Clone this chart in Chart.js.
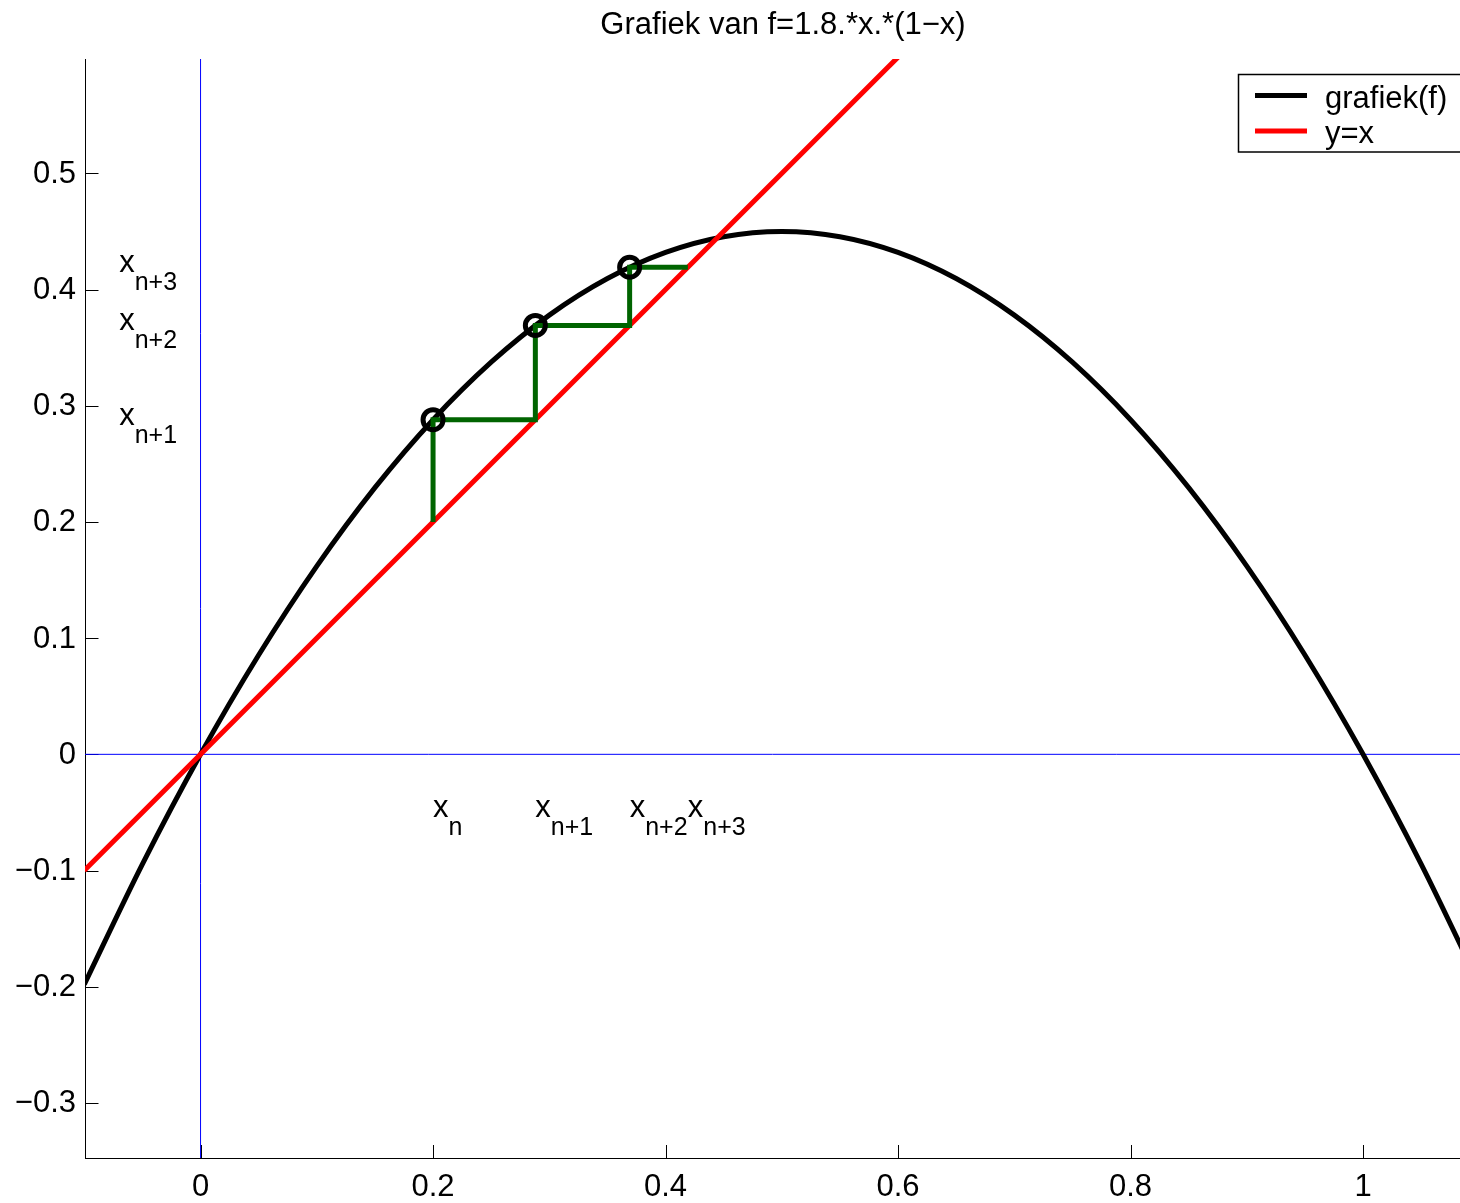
<!DOCTYPE html>
<html><head><meta charset="utf-8">
<script src="https://cdn.jsdelivr.net/npm/chart.js@4/dist/chart.umd.min.js"></script>
<style>html,body{margin:0;padding:0;background:#fff}</style>
</head><body>
<canvas id="c" width="1460" height="1203"></canvas>
<script>
const titleText = 'Grafiek van f=1.8.*x.*(1−x)';
const curveX = [-0.1,-0.05,0,0.05,0.1,0.15,0.2,0.25,0.3,0.35,0.4,0.45,0.5,0.55,0.6,0.65,0.7,0.75,0.8,0.85,0.9,0.95,1.0,1.05,1.1];
const curveY = [-0.198,-0.0945,0,0.0855,0.162,0.2295,0.288,0.3375,0.378,0.4095,0.432,0.4455,0.45,0.4455,0.432,0.4095,0.378,0.3375,0.288,0.2295,0.162,0.0855,0,-0.0945,-0.198];
const diagX = [-0.1, 0.6];
const diagY = [-0.1, 0.6];
const cobwebX = [0.2,0.2,0.288,0.288,0.3691,0.3691,0.4192];
const cobwebY = [0.2,0.288,0.288,0.3691,0.3691,0.4192,0.4192];
const iterX = [0.2,0.288,0.3691];
const iterY = [0.288,0.3691,0.4192];
const xTicks = [0,0.2,0.4,0.6,0.8,1];
const xTickLabels = ['0','0.2','0.4','0.6','0.8','1'];
const yTicks = [-0.3,-0.2,-0.1,0,0.1,0.2,0.3,0.4,0.5];
const yTickLabels = ['−0.3','−0.2','−0.1','0','0.1','0.2','0.3','0.4','0.5'];
const bottomLabelX = [0.2,0.288,0.3691,0.4192];
const bottomLabelY = [-0.05,-0.05,-0.05,-0.05];
const bottomLabelSub = ['n','n+1','n+2','n+3'];
const leftLabelX = [-0.07,-0.07,-0.07];
const leftLabelY = [0.288,0.3691,0.4192];
const leftLabelSub = ['n+1','n+2','n+3'];
const legendLabels = ['grafiek(f)','y=x'];
const xRange = [-0.0994, 1.0834];
const yRange = [-0.3474, 0.5984];

const FONT = "'Liberation Sans', Arial, Helvetica, sans-serif";
const pts = (xs, ys) => xs.map((x, i) => ({x: x, y: ys[i]}));

const ticksPlugin = {
  id: 'inTicks',
  beforeDatasetsDraw(chart) {
    const ctx = chart.ctx, a = chart.chartArea, xs = chart.scales.x, ys = chart.scales.y;
    ctx.save();
    ctx.strokeStyle = '#000'; ctx.lineWidth = 1;
    ctx.beginPath();
    xs.ticks.forEach(t => { const p = Math.round(xs.getPixelForValue(t.value)) + 0.5; ctx.moveTo(p, a.bottom); ctx.lineTo(p, a.bottom - 13); });
    ys.ticks.forEach(t => { const p = Math.round(ys.getPixelForValue(t.value)) + 0.5; ctx.moveTo(a.left + 0.5, p); ctx.lineTo(a.left + 13.5, p); });
    ctx.stroke();
    ctx.restore();
  }
};

const titlePlugin = {
  id: 'axesTitle',
  afterDraw(chart) {
    const ctx = chart.ctx, a = chart.chartArea;
    ctx.save();
    ctx.fillStyle = '#000';
    ctx.font = '31px ' + FONT;
    ctx.textAlign = 'center'; ctx.textBaseline = 'alphabetic';
    // axes extends past the right edge of the picture; title is centred over the full axes width
    ctx.fillText(titleText, (a.left + a.right + 21) / 2, 34);
    ctx.restore();
  }
};

function drawSubLabel(ctx, px, py, sub) {
  ctx.font = '31px ' + FONT;
  ctx.textAlign = 'left'; ctx.textBaseline = 'alphabetic';
  ctx.fillText('x', px, py + 5);
  const w = ctx.measureText('x').width;
  ctx.font = '25px ' + FONT;
  ctx.fillText(sub, px + w, py + 23);
}

const labelsPlugin = {
  id: 'subLabels',
  afterDatasetsDraw(chart) {
    const ctx = chart.ctx, xs = chart.scales.x, ys = chart.scales.y;
    ctx.save();
    ctx.fillStyle = '#000';
    bottomLabelX.forEach((x, i) => drawSubLabel(ctx, xs.getPixelForValue(x), ys.getPixelForValue(bottomLabelY[i]), bottomLabelSub[i]));
    leftLabelX.forEach((x, i) => drawSubLabel(ctx, xs.getPixelForValue(x), ys.getPixelForValue(leftLabelY[i]), leftLabelSub[i]));
    ctx.restore();
  }
};

const legendPlugin = {
  id: 'boxLegend',
  afterDraw(chart) {
    const ctx = chart.ctx;
    ctx.save();
    ctx.fillStyle = '#fff';
    ctx.fillRect(1238.5, 74.5, 240, 77.5);
    ctx.strokeStyle = '#000'; ctx.lineWidth = 1.5;
    ctx.strokeRect(1238.5, 74.5, 240, 77.5);
    const colors = ['#000000', '#ff0000'];
    const rows = [95.5, 131];
    legendLabels.forEach((lab, i) => {
      ctx.strokeStyle = colors[i]; ctx.lineWidth = 5;
      ctx.beginPath(); ctx.moveTo(1255, rows[i]); ctx.lineTo(1307, rows[i]); ctx.stroke();
      ctx.fillStyle = '#000';
      ctx.font = '31px ' + FONT;
      ctx.textAlign = 'left'; ctx.textBaseline = 'alphabetic';
      ctx.fillText(lab, 1325, rows[i] + 12);
    });
    ctx.restore();
  }
};

new Chart(document.getElementById('c'), {
  type: 'scatter',
  data: {
    datasets: [
      { label: 'iterates', data: pts(iterX, iterY), showLine: false, pointRadius: 10, pointBorderWidth: 5, pointBorderColor: '#000', pointBackgroundColor: 'rgba(0,0,0,0)', order: 0 },
      { label: 'cobweb', data: pts(cobwebX, cobwebY), showLine: true, borderColor: '#006400', borderWidth: 5, pointRadius: 0, tension: 0, order: 1 },
      { label: legendLabels[1], data: pts(diagX, diagY), showLine: true, borderColor: '#ff0000', borderWidth: 5, pointRadius: 0, tension: 0, order: 2 },
      { label: legendLabels[0], data: pts(curveX, curveY), showLine: true, borderColor: '#000000', borderWidth: 5, pointRadius: 0, cubicInterpolationMode: 'monotone', order: 3 },
      { label: 'xaxis', data: pts([xRange[0] - 1, xRange[1] + 1], [0, 0]), showLine: true, borderColor: '#0000ff', borderWidth: 1, pointRadius: 0, order: 4 },
      { label: 'yaxis', data: pts([0, 0], [yRange[0] - 1, yRange[1] + 1]), showLine: true, borderColor: '#0000ff', borderWidth: 1, pointRadius: 0, order: 5 }
    ]
  },
  options: {
    responsive: false,
    animation: false,
    devicePixelRatio: 1,
    layout: { padding: { left: 0, right: 0, top: 59, bottom: 0 }, autoPadding: false },
    plugins: {
      legend: { display: false },
      tooltip: { enabled: false },
      title: { display: false }
    },
    scales: {
      x: {
        type: 'linear', min: xRange[0], max: xRange[1],
        afterBuildTicks: s => { s.ticks = xTicks.map(v => ({ value: v })); },
        afterFit: s => { s.height = 45; },
        grid: { display: true, drawOnChartArea: false, drawTicks: false },
        border: { display: true, color: '#000', width: 1 },
        ticks: { color: '#000', font: { family: FONT, size: 31 }, padding: 11, autoSkip: false, maxRotation: 0,
          callback: v => { const i = xTicks.findIndex(t => Math.abs(t - v) < 1e-9); return i >= 0 ? xTickLabels[i] : ''; } }
      },
      y: {
        type: 'linear', min: yRange[0], max: yRange[1],
        afterBuildTicks: s => { s.ticks = yTicks.map(v => ({ value: v })); },
        afterFit: s => { s.width = 85; },
        grid: { display: true, drawOnChartArea: false, drawTicks: false },
        border: { display: true, color: '#000', width: 1 },
        ticks: { color: '#000', font: { family: FONT, size: 31 }, padding: 9, autoSkip: false, labelOffset: 1,
          callback: v => { const i = yTicks.findIndex(t => Math.abs(t - v) < 1e-9); return i >= 0 ? yTickLabels[i] : ''; } }
      }
    }
  },
  plugins: [ticksPlugin, labelsPlugin, legendPlugin, titlePlugin]
});
</script>
</body></html>
